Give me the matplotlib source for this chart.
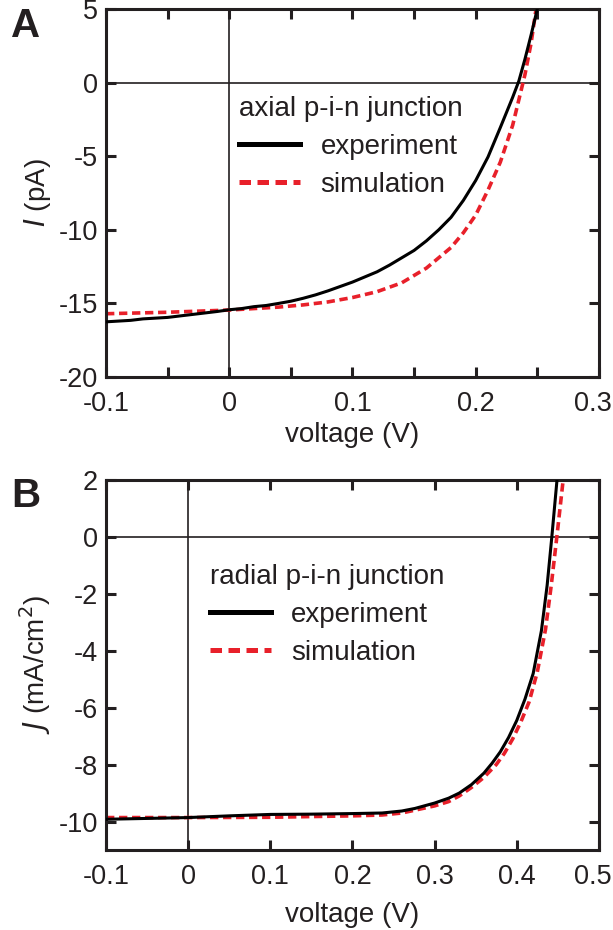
import matplotlib
matplotlib.use("Agg")
import matplotlib.pyplot as plt
import matplotlib.transforms as mtransforms
from matplotlib.ticker import MultipleLocator

plt.rcParams['font.family'] = ['Liberation Sans', 'DejaVu Sans']
plt.rcParams['axes.unicode_minus'] = False

# panel A: axial p-i-n junction, current (pA) vs voltage (V)
v_exp_a = [-0.1, -0.09, -0.08, -0.07, -0.06, -0.05, -0.04, -0.03, -0.02, -0.01,
           0.0, 0.01, 0.02, 0.03, 0.04, 0.05, 0.06, 0.07, 0.08, 0.09, 0.10,
           0.11, 0.12, 0.13, 0.14, 0.15, 0.16, 0.17, 0.18, 0.19, 0.20, 0.21,
           0.22, 0.23, 0.235, 0.24, 0.245, 0.25]
i_exp_a = [-16.25, -16.2, -16.15, -16.05, -16.0, -15.95, -15.85, -15.75, -15.65, -15.55,
           -15.43, -15.35, -15.22, -15.14, -15.0, -14.85, -14.65, -14.42, -14.15, -13.85, -13.55,
           -13.2, -12.85, -12.4, -11.9, -11.4, -10.75, -10.0, -9.15, -8.0, -6.65, -5.05,
           -3.05, -1.0, 0.1, 1.6, 3.25, 5.0]
v_sim_a = [-0.1, -0.05, 0.0, 0.02, 0.04, 0.06, 0.08, 0.10, 0.12, 0.14, 0.16,
           0.18, 0.19, 0.20, 0.21, 0.22, 0.23, 0.24, 0.245, 0.249]
i_sim_a = [-15.7, -15.6, -15.45, -15.35, -15.25, -15.1, -14.9, -14.6, -14.2, -13.6, -12.6,
           -11.2, -10.2, -9.0, -7.3, -5.4, -2.9, 0.55, 2.7, 5.0]

# panel B: radial p-i-n junction, current density (mA/cm2) vs voltage (V)
v_exp_b = [-0.1, -0.05, 0.0, 0.05, 0.1, 0.15, 0.2, 0.236, 0.26, 0.276, 0.30, 0.317,
           0.33, 0.345, 0.36, 0.37, 0.38, 0.39, 0.40, 0.41, 0.42, 0.43, 0.437,
           0.4427, 0.449]
j_exp_b = [-9.92, -9.89, -9.86, -9.8, -9.75, -9.74, -9.72, -9.7, -9.63, -9.54, -9.35, -9.18,
           -9.0, -8.7, -8.3, -7.95, -7.55, -7.05, -6.45, -5.7, -4.8, -3.3, -1.7,
           0.0, 2.0]
v_sim_b = [-0.1, 0.0, 0.1, 0.2, 0.236, 0.26, 0.276, 0.30, 0.317, 0.33, 0.345, 0.36,
           0.375, 0.385, 0.395, 0.405, 0.415, 0.425, 0.435, 0.442, 0.4488, 0.4565]
j_sim_b = [-9.86, -9.86, -9.85, -9.8, -9.77, -9.7, -9.6, -9.45, -9.3, -9.1, -8.8, -8.45,
           -8.0, -7.6, -7.1, -6.5, -5.8, -4.75, -3.25, -1.7, 0.0, 2.0]

xticks_a = [-0.1, 0.0, 0.1, 0.2, 0.3]
xlabels_a = ['-0.1', '0', '0.1', '0.2', '0.3']
yticks_a = [-20, -15, -10, -5, 0, 5]
ylabels_a = ['-20', '-15', '-10', '-5', '0', '5']
xticks_b = [-0.1, 0.0, 0.1, 0.2, 0.3, 0.4, 0.5]
xlabels_b = ['-0.1', '0', '0.1', '0.2', '0.3', '0.4', '0.5']
yticks_b = [-10, -8, -6, -4, -2, 0, 2]
ylabels_b = ['-10', '-8', '-6', '-4', '-2', '0', '2']

red = '#e8202a'
ink = '#231f20'
fs = 20
tick_fs = 19.5

fig = plt.figure(figsize=(6.13, 9.30), dpi=100)
ax_a = fig.add_axes([0.173, 0.5946, 0.804, 0.3957])
ax_b = fig.add_axes([0.173, 0.086, 0.804, 0.398])


def style(ax):
    for s in ax.spines.values():
        s.set_linewidth(2.2)
        s.set_color(ink)
    ax.tick_params(which='both', direction='in', top=True, right=True,
                   length=7, width=2.2, color=ink, labelsize=tick_fs,
                   labelcolor=ink)
    ax.tick_params(axis='x', which='both', pad=10)
    ax.tick_params(axis='y', which='both', pad=6)
    ax.axhline(0, color=ink, lw=1.2, zorder=1)
    ax.axvline(0, color=ink, lw=1.2, zorder=1)


def nudge_last_xlabel(ax):
    # keep the rightmost tick label inside the picture edge
    lab = ax.get_xticklabels()[-1]
    off = mtransforms.ScaledTranslation(-6 / 100, 0, fig.dpi_scale_trans)
    lab.set_transform(lab.get_transform() + off)


def add_legend(ax, title, anchor):
    leg = ax.legend(title=title, loc='upper left', bbox_to_anchor=anchor,
                    frameon=False, fontsize=fs, title_fontsize=fs,
                    alignment='left', borderpad=0, borderaxespad=0,
                    handlelength=2.2, handletextpad=0.73, labelspacing=0.43)
    leg.get_title().set_color(ink)
    for t in leg.get_texts():
        t.set_color(ink)
    for ln in leg.get_lines():
        ln.set_linewidth(3.6)
    return leg


style(ax_a)
ax_a.plot(v_exp_a, i_exp_a, color='black', lw=2.2, label='experiment', zorder=3)
ax_a.plot(v_sim_a, i_sim_a, color=red, lw=2.6, dashes=(2.3, 1.3),
          label='simulation', zorder=2)
ax_a.set_xlim(-0.1, 0.3)
ax_a.set_ylim(-20, 5)
ax_a.set_xticks(xticks_a)
ax_a.set_xticklabels(xlabels_a)
ax_a.xaxis.set_minor_locator(MultipleLocator(0.05))
ax_a.set_yticks(yticks_a)
ax_a.set_yticklabels(ylabels_a)
ax_a.set_xlabel('voltage (V)', fontsize=fs, color=ink, labelpad=4)
ax_a.set_ylabel(r'$\mathit{I}$ (pA)', fontsize=fs, color=ink, labelpad=4)
add_legend(ax_a, 'axial p-i-n junction', (0.27, 0.764))
nudge_last_xlabel(ax_a)

style(ax_b)
ax_b.plot(v_exp_b, j_exp_b, color='black', lw=2.2, label='experiment', zorder=3)
ax_b.plot(v_sim_b, j_sim_b, color=red, lw=2.6, dashes=(2.3, 1.3),
          label='simulation', zorder=2)
ax_b.set_xlim(-0.1, 0.5)
ax_b.set_ylim(-11, 2)
ax_b.set_xticks(xticks_b)
ax_b.set_xticklabels(xlabels_b)
ax_b.set_yticks(yticks_b)
ax_b.set_yticklabels(ylabels_b)
ax_b.set_xlabel('voltage (V)', fontsize=fs, color=ink, labelpad=9)
ax_b.set_ylabel(r'$\mathit{J}$ (mA/cm$^2$)', fontsize=fs, color=ink, labelpad=4)
add_legend(ax_b, 'radial p-i-n junction', (0.21, 0.772))
nudge_last_xlabel(ax_b)

fig.text(0.018, 0.960, 'A', fontsize=29, fontweight='bold', color=ink, va='baseline')
fig.text(0.018, 0.455, 'B', fontsize=29, fontweight='bold', color=ink, va='baseline')

fig.savefig('out.png', dpi=100)
